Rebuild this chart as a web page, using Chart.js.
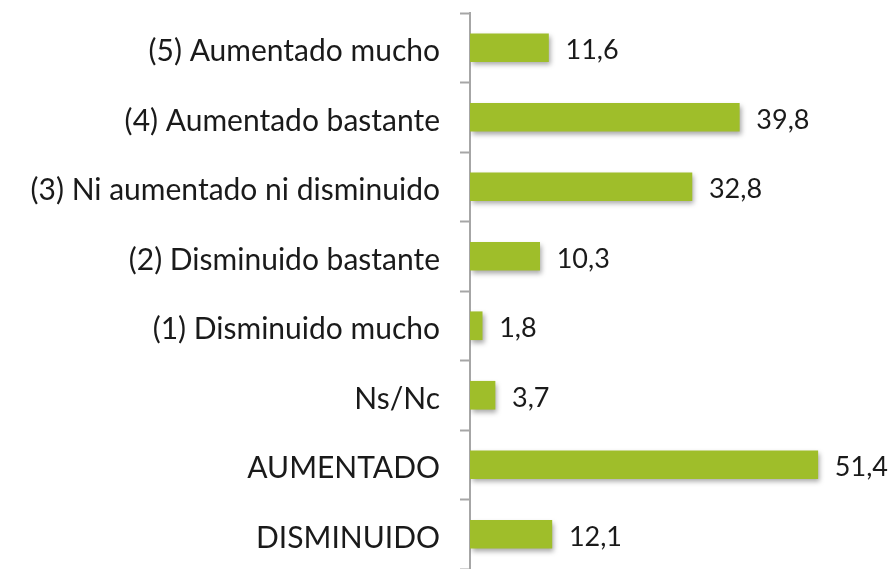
<!DOCTYPE html>
<html>
<head>
<meta charset="utf-8">
<script src="https://cdn.jsdelivr.net/npm/chart.js@4/dist/chart.umd.min.js"></script>
<style>
  html, body { margin: 0; padding: 0; background: #fff; }
  #wrap { width: 891px; height: 569px; }
</style>
</head>
<body>
<div id="wrap"><canvas id="c"></canvas></div>
<script>
const categories = [
  '(5) Aumentado mucho',
  '(4) Aumentado bastante',
  '(3) Ni aumentado ni disminuido',
  '(2) Disminuido bastante',
  '(1) Disminuido mucho',
  'Ns/Nc',
  'AUMENTADO',
  'DISMINUIDO'
];
const values = [11.6, 39.8, 32.8, 10.3, 1.8, 3.7, 51.4, 12.1];

const FONT = "Lato, 'Open Sans', sans-serif";
const BAR_GREEN = '#9fbe2a';

// soft shadow under the bars
const barShadow = {
  id: 'barShadow',
  beforeDatasetsDraw(chart) {
    const ctx = chart.ctx;
    ctx.save();
    ctx.shadowColor = 'rgba(0,0,0,0.35)';
    ctx.shadowBlur = 5;
    ctx.shadowOffsetX = 2;
    ctx.shadowOffsetY = 3;
  },
  afterDatasetsDraw(chart) {
    chart.ctx.restore();
  }
};

// value labels to the right of each bar
const valueLabels = {
  id: 'valueLabels',
  afterDatasetsDraw(chart) {
    const ctx = chart.ctx;
    const meta = chart.getDatasetMeta(0);
    ctx.save();
    ctx.font = '27px ' + FONT;
    ctx.fillStyle = '#1a1a1a';
    ctx.textAlign = 'left';
    ctx.textBaseline = 'middle';
    meta.data.forEach((bar, i) => {
      const txt = values[i].toFixed(1).replace('.', ',');
      ctx.fillText(txt, bar.x + 17, bar.y + 3);
    });
    ctx.restore();
  }
};

new Chart(document.getElementById('c'), {
  type: 'bar',
  data: {
    labels: categories,
    datasets: [{
      data: values,
      backgroundColor: BAR_GREEN,
      borderWidth: 0,
      barThickness: 28
    }]
  },
  options: {
    indexAxis: 'y',
    responsive: true,
    maintainAspectRatio: false,
    animation: false,
    layout: { padding: { top: 13, bottom: -4, left: 0, right: 15 } },
    plugins: {
      legend: { display: false },
      tooltip: { enabled: false }
    },
    scales: {
      x: {
        display: false,
        min: 0,
        max: 60
      },
      y: {
        afterFit(scale) {
          scale.width = 470;
          scale.paddingTop = 0;
          scale.paddingBottom = 0;
        },
        grid: {
          drawOnChartArea: false,
          drawTicks: true,
          tickLength: 10,
          tickWidth: 2,
          color: '#a6a6a6',
          offset: true
        },
        border: { display: true, color: '#a6a6a6', width: 2 },
        ticks: {
          padding: 20,
          labelOffset: 4,
          color: '#1a1a1a',
          font: { family: FONT, size: 30 }
        }
      }
    }
  },
  plugins: [barShadow, valueLabels]
});
</script>
</body>
</html>
